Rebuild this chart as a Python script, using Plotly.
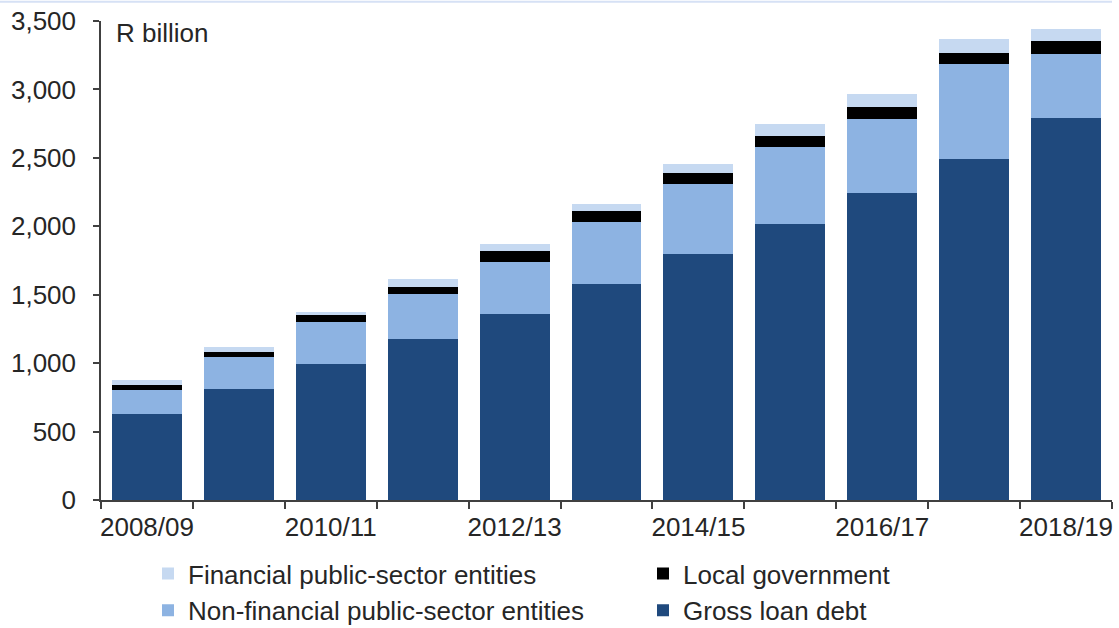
import plotly.graph_objects as go

years = ["2008/09", "2009/10", "2010/11", "2011/12", "2012/13", "2013/14",
         "2014/15", "2015/16", "2016/17", "2017/18", "2018/19"]
gross_loan_debt = [627, 808, 991, 1174, 1357, 1578, 1797, 2016, 2240, 2493, 2788]
non_financial_pse = [178, 234, 307, 329, 384, 453, 509, 565, 541, 692, 470]
local_government = [37, 41, 61, 55, 78, 80, 80, 78, 92, 78, 97]
financial_pse = [38, 35, 12, 56, 51, 49, 68, 88, 90, 109, 85]
tick_labels = [y if i % 2 == 0 else "" for i, y in enumerate(years)]

FONT = "Liberation Sans, Arial, sans-serif"
TXT = "#262626"
FS = 26

fig = go.Figure()
fig.add_trace(go.Bar(x=years, y=gross_loan_debt, name="Gross loan debt",
                     marker=dict(color="#1F497D", line=dict(width=0)),
                     legend="legend2", legendrank=2))
fig.add_trace(go.Bar(x=years, y=non_financial_pse, name="Non-financial public-sector entities",
                     marker=dict(color="#8DB3E2", line=dict(width=0)),
                     legend="legend", legendrank=2))
fig.add_trace(go.Bar(x=years, y=local_government, name="Local government",
                     marker=dict(color="#000000", line=dict(width=0)),
                     legend="legend2", legendrank=1))
fig.add_trace(go.Bar(x=years, y=financial_pse, name="Financial public-sector entities",
                     marker=dict(color="#C6D9F1", line=dict(width=0)),
                     legend="legend", legendrank=1))

legend_common = dict(orientation="v", xref="container", yref="container",
                     xanchor="left", yanchor="top", y=0.124,
                     font=dict(family=FONT, size=FS, color=TXT),
                     traceorder="normal", itemwidth=30,
                     bgcolor="rgba(0,0,0,0)")

fig.update_layout(
    width=1119, height=628,
    barmode="stack", bargap=0.24,
    paper_bgcolor="white", plot_bgcolor="white",
    margin=dict(l=101, r=7, t=21, b=128, autoexpand=False),
    font=dict(family=FONT, size=FS, color=TXT),
    showlegend=True,
    legend=dict(x=148 / 1119, **legend_common),
    legend2=dict(x=643 / 1119, **legend_common),
    xaxis=dict(type="category", tickmode="array", tickvals=years, ticktext=tick_labels,
               tickson="boundaries", ticks="outside", ticklen=7, tickwidth=1.5,
               tickcolor="#404040", showline=True, linecolor="#404040", linewidth=1.5,
               showgrid=False, tickfont=dict(family=FONT, size=FS, color=TXT),
               tickangle=0, ticklabelstandoff=3),
    yaxis=dict(range=[0, 3500], tickvals=[0, 500, 1000, 1500, 2000, 2500, 3000, 3500],
               tickformat=",", ticks="outside", ticklen=6, tickwidth=1.5,
               tickcolor="#404040", showline=True, linecolor="#404040", linewidth=1.5,
               showgrid=False, zeroline=False, ticklabelstandoff=12,
               tickfont=dict(family=FONT, size=FS, color=TXT)),
    annotations=[dict(text="R billion", xref="paper", yref="paper", x=0.013, y=1.01,
                      xanchor="left", yanchor="top", showarrow=False,
                      font=dict(family=FONT, size=FS, color=TXT))],
    shapes=[dict(type="line", xref="paper", yref="paper", x0=-0.1, x1=1.0,
                 y0=1.04, y1=1.04, line=dict(color="#D6E1F5", width=2))],
)

fig.write_html("out.html")
